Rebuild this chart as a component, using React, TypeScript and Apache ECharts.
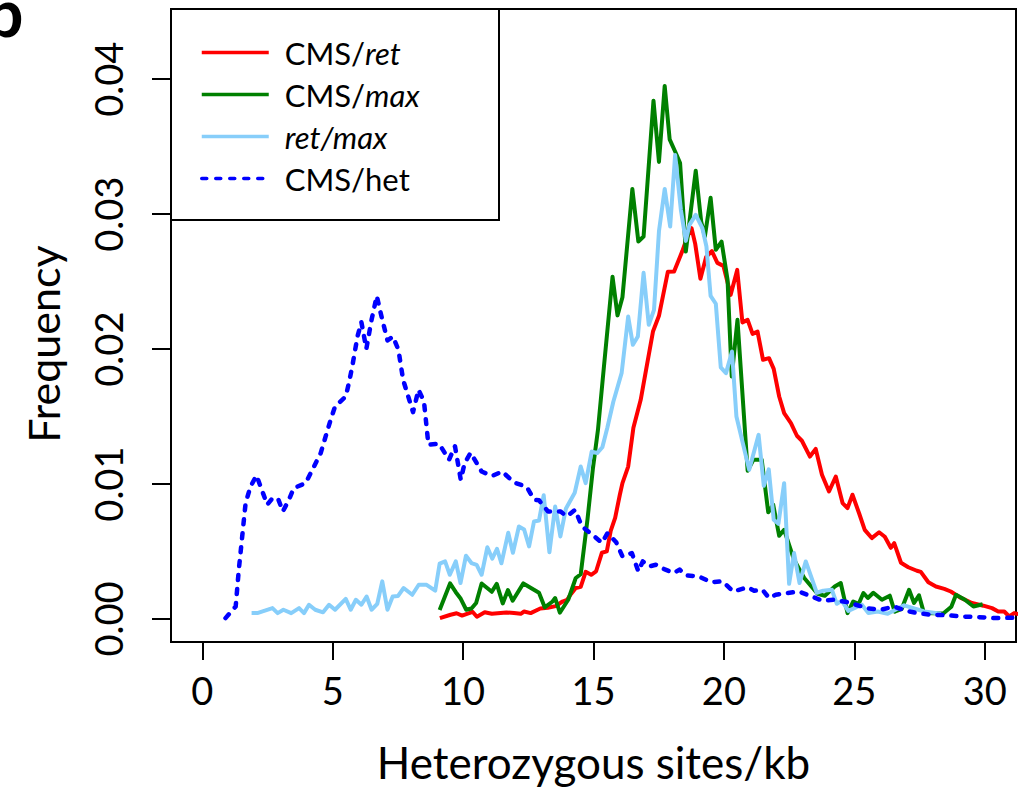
import React, { useEffect, useRef } from "react";
import * as echarts from "echarts";

// Heterozygous sites/kb (x) vs frequency (y)
const cmsRet: [number, number][] = [
  [9.11,0.00007],[9.52,0.00032],[9.75,0.00043],[9.96,0.00026],[10.23,0.00044],[10.36,0.00054],[10.53,0.00017],[10.83,0.00050],[11.10,0.00039],[11.66,0.00049],[11.95,0.00044],[12.21,0.00039],[12.34,0.00056],[12.59,0.00044],[12.96,0.00078],[13.25,0.00084],[13.55,0.00096],[13.81,0.00130],[13.99,0.00143],[14.13,0.00184],[14.32,0.00230],[14.51,0.00239],[14.70,0.00350],[14.91,0.00328],[15.10,0.00354],[15.32,0.00491],[15.51,0.00501],[15.66,0.00654],[15.83,0.00750],[16.01,0.00921],[16.11,0.01007],[16.33,0.01130],[16.53,0.01417],[16.81,0.01624],[17.05,0.01884],[17.28,0.02130],[17.51,0.02247],[17.85,0.02573],[18.09,0.02575],[18.41,0.02728],[18.60,0.02834],[18.76,0.02896],[18.90,0.02780],[19.10,0.02521],[19.32,0.02684],[19.54,0.02726],[19.75,0.02639],[19.98,0.02617],[20.26,0.02402],[20.51,0.02587],[20.71,0.02198],[20.91,0.02217],[21.10,0.02113],[21.29,0.02130],[21.50,0.01921],[21.73,0.01933],[21.91,0.01854],[22.12,0.01649],[22.31,0.01526],[22.57,0.01452],[22.80,0.01358],[22.99,0.01321],[23.30,0.01204],[23.52,0.01261],[23.76,0.01069],[24.03,0.00945],[24.29,0.01056],[24.55,0.00859],[24.74,0.00822],[24.93,0.00921],[25.19,0.00780],[25.40,0.00661],[25.67,0.00600],[25.95,0.00643],[26.17,0.00610],[26.40,0.00528],[26.53,0.00563],[26.79,0.00417],[27.07,0.00384],[27.40,0.00358],[27.55,0.00350],[27.84,0.00273],[28.13,0.00241],[28.45,0.00224],[28.70,0.00204],[29.05,0.00161],[29.51,0.00119],[29.95,0.00099],[30.28,0.00081],[30.52,0.00056],[30.75,0.00056],[30.94,0.00019],[31.13,0.00044],[31.40,0.00032]
];

const cmsMax: [number, number][] = [
  [9.10,0.00067],[9.50,0.00264],[9.72,0.00199],[9.91,0.00150],[10.12,0.00069],[10.32,0.00078],[10.50,0.00119],[10.71,0.00264],[11.10,0.00202],[11.29,0.00261],[11.52,0.00116],[11.72,0.00215],[11.90,0.00136],[12.31,0.00264],[12.91,0.00195],[13.13,0.00087],[13.43,0.00130],[13.53,0.00156],[13.71,0.00047],[14.03,0.00143],[14.32,0.00304],[14.51,0.00332],[14.77,0.00740],[14.98,0.01120],[15.17,0.01400],[15.40,0.01870],[15.73,0.02536],[15.92,0.02250],[16.11,0.02384],[16.49,0.03187],[16.72,0.02797],[16.92,0.02834],[17.30,0.03841],[17.51,0.03387],[17.73,0.03950],[17.92,0.03554],[18.13,0.03464],[18.32,0.03378],[18.54,0.02723],[18.92,0.03321],[19.13,0.02943],[19.27,0.02834],[19.49,0.03121],[19.69,0.02736],[19.91,0.02797],[20.14,0.02513],[20.30,0.01797],[20.52,0.02217],[20.91,0.01099],[21.13,0.01180],[21.45,0.01180],[21.70,0.00791],[21.89,0.00847],[22.12,0.00617],[22.31,0.00661],[22.69,0.00439],[23.08,0.00304],[23.59,0.00187],[23.87,0.00173],[24.25,0.00241],[24.48,0.00267],[24.74,0.00044],[24.96,0.00130],[25.17,0.00113],[25.35,0.00193],[25.52,0.00156],[25.73,0.00195],[26.06,0.00143],[26.36,0.00173],[26.55,0.00054],[26.82,0.00076],[27.10,0.00217],[27.29,0.00119],[27.48,0.00176],[27.67,0.00044],[28.41,0.00041],[28.72,0.00091],[28.90,0.00180],[29.24,0.00143],[29.57,0.00093],[29.92,0.00110]
];

const retMax: [number, number][] = [
  [1.89,0.00044],[2.11,0.00044],[2.69,0.00081],[2.89,0.00044],[3.11,0.00069],[3.41,0.00044],[3.71,0.00081],[3.90,0.00044],[4.09,0.00106],[4.33,0.00069],[4.63,0.00050],[4.86,0.00106],[5.09,0.00069],[5.50,0.00150],[5.69,0.00069],[5.89,0.00143],[6.10,0.00106],[6.30,0.00167],[6.49,0.00069],[6.71,0.00113],[6.90,0.00279],[7.10,0.00069],[7.30,0.00167],[7.50,0.00170],[7.72,0.00230],[8.05,0.00180],[8.30,0.00254],[8.60,0.00254],[8.93,0.00210],[9.10,0.00410],[9.31,0.00427],[9.49,0.00328],[9.72,0.00427],[9.90,0.00267],[10.11,0.00469],[10.32,0.00415],[10.52,0.00402],[10.71,0.00328],[10.93,0.00532],[11.12,0.00447],[11.30,0.00521],[11.47,0.00413],[11.73,0.00639],[11.91,0.00491],[12.14,0.00686],[12.34,0.00664],[12.53,0.00538],[12.72,0.00723],[12.91,0.00730],[13.09,0.00917],[13.31,0.00495],[13.53,0.00834],[13.73,0.00612],[13.94,0.00817],[14.28,0.00936],[14.51,0.01130],[14.70,0.01007],[14.93,0.01241],[15.14,0.01230],[15.34,0.01273],[15.53,0.01417],[15.76,0.01610],[16.08,0.01824],[16.33,0.02241],[16.51,0.02032],[16.70,0.02093],[16.92,0.02565],[17.12,0.02180],[17.32,0.02291],[17.51,0.02873],[17.73,0.03187],[17.94,0.02908],[18.13,0.03439],[18.35,0.03032],[18.54,0.02802],[18.68,0.02921],[18.92,0.02995],[19.17,0.02899],[19.33,0.02760],[19.49,0.02395],[19.69,0.02336],[19.88,0.01865],[20.08,0.01822],[20.31,0.01982],[20.48,0.01501],[20.97,0.01106],[21.33,0.01365],[21.53,0.00987],[21.72,0.01109],[21.91,0.00736],[22.09,0.00706],[22.31,0.01007],[22.50,0.00261],[22.69,0.00489],[22.90,0.00267],[23.14,0.00427],[23.56,0.00195],[23.81,0.00210],[24.14,0.00217],[24.33,0.00113],[24.52,0.00136],[24.77,0.00061],[25.29,0.00106],[25.54,0.00044],[25.90,0.00056],[26.28,0.00039],[26.91,0.00102],[27.68,0.00056],[28.33,0.00039]
];

const cmsHet: [number, number][] = [
  [0.89,0.00007],[1.28,0.00093],[1.40,0.00365],[1.53,0.00612],[1.66,0.00859],[1.85,0.00982],[2.08,0.01064],[2.28,0.00958],[2.49,0.00847],[2.71,0.00901],[2.92,0.00884],[3.09,0.00797],[3.32,0.00884],[3.51,0.00970],[3.96,0.01007],[4.22,0.01106],[4.54,0.01230],[4.73,0.01353],[4.92,0.01476],[5.09,0.01575],[5.50,0.01649],[5.62,0.01748],[5.75,0.01871],[5.95,0.02093],[6.10,0.02200],[6.29,0.02002],[6.49,0.02217],[6.69,0.02395],[6.84,0.02267],[7.10,0.02064],[7.31,0.02093],[7.52,0.01995],[7.70,0.01773],[8.08,0.01533],[8.29,0.01699],[8.50,0.01612],[8.67,0.01291],[9.08,0.01299],[9.46,0.01180],[9.69,0.01280],[9.91,0.01032],[10.06,0.01156],[10.29,0.01232],[10.71,0.01093],[11.12,0.01061],[11.50,0.01093],[11.95,0.01012],[12.44,0.00980],[12.72,0.00884],[12.91,0.00880],[13.26,0.00797],[13.74,0.00797],[13.97,0.00760],[14.30,0.00810],[14.55,0.00687],[14.96,0.00624],[15.32,0.00565],[15.54,0.00637],[15.87,0.00569],[16.11,0.00464],[16.47,0.00489],[16.72,0.00353],[16.89,0.00427],[17.13,0.00390],[17.39,0.00402],[17.71,0.00370],[18.09,0.00341],[18.30,0.00367],[18.54,0.00324],[19.04,0.00316],[19.50,0.00273],[19.95,0.00279],[20.36,0.00204],[20.91,0.00236],[21.16,0.00210],[21.48,0.00217],[21.73,0.00156],[21.99,0.00180],[22.44,0.00193],[22.88,0.00204],[23.29,0.00173],[23.77,0.00136],[24.23,0.00143],[24.77,0.00124],[25.06,0.00106],[25.51,0.00080],[26.02,0.00069],[26.53,0.00093],[26.98,0.00061],[27.43,0.00044],[27.94,0.00032],[28.58,0.00028],[29.09,0.00019],[29.73,0.00015],[30.36,0.00007],[31.20,0.00010]
];

const xTicks = [0, 5, 10, 15, 20, 25, 30];
const yTicks = [0, 0.01, 0.02, 0.03, 0.04];
const seriesNames = ["CMS/ret", "CMS/max", "ret/max", "CMS/het"];
const legendRich: Record<string, string> = {
  "CMS/ret": "{a|CMS/}{i|ret}",
  "CMS/max": "{a|CMS/}{i|max}",
  "ret/max": "{b|ret/max}",
  "CMS/het": "{a|CMS/het}",
};

const FONT = "Lato, 'DejaVu Sans', sans-serif";

export default function App() {
  const ref = useRef<HTMLDivElement>(null);
  useEffect(() => {
    if (!ref.current) return;
    const chart = echarts.init(ref.current, undefined, { renderer: "svg" });
    const lineBase = { type: "line", showSymbol: false, symbol: "none", clip: true };
    chart.setOption({
      animation: false,
      backgroundColor: "#fff",
      textStyle: { fontFamily: FONT },
      grid: {
        left: 171, top: 9, width: 845, height: 633,
        show: true, borderColor: "#000", borderWidth: 2, backgroundColor: "transparent",
      },
      xAxis: {
        type: "value", min: -1.2, max: 31.2,
        axisLine: { show: true, onZero: false, lineStyle: { color: "#000", width: 2 } },
        axisTick: { show: true, customValues: xTicks, length: 18, lineStyle: { color: "#000", width: 2 } },
        axisLabel: { customValues: xTicks, color: "#000", fontSize: 38, fontFamily: FONT, margin: 29 },
        splitLine: { show: false },
        name: "Heterozygous sites/kb", nameLocation: "middle", nameGap: 98,
        nameTextStyle: { color: "#000", fontSize: 44, fontFamily: FONT },
      },
      yAxis: {
        type: "value", min: -0.0017, max: 0.0452,
        axisLine: { show: true, onZero: false, lineStyle: { color: "#000", width: 2 } },
        axisTick: { show: true, customValues: yTicks, length: 19, lineStyle: { color: "#000", width: 2 } },
        axisLabel: {
          customValues: yTicks, color: "#000", fontSize: 38, fontFamily: FONT, rotate: 90, margin: 44,
          formatter: (v: number) => v.toFixed(2),
        },
        splitLine: { show: false },
        name: "Frequency", nameLocation: "middle", nameRotate: 90, nameGap: 106,
        nameTextStyle: { color: "#000", fontSize: 43, fontFamily: FONT, padding: [0, 37, 0, 0] },
      },
      legend: {
        data: seriesNames, orient: "vertical", left: 200, top: 37, z: 10,
        itemWidth: 67, itemHeight: 14, itemGap: 11, padding: 0,
        formatter: (name: string) => legendRich[name],
        itemStyle: { opacity: 0, borderWidth: 0 },
        lineStyle: { width: 3.5 },
        textStyle: {
          color: "#000", fontSize: 31, fontFamily: FONT, lineHeight: 31,
          rich: {
            a: { fontSize: 31, fontFamily: FONT, color: "#000", padding: [0, 0, 0, 11] },
            b: { fontSize: 31, fontFamily: FONT, color: "#000", fontStyle: "italic", padding: [0, 0, 0, 11] },
            i: { fontSize: 31, fontFamily: FONT, color: "#000", fontStyle: "italic" },
          },
        },
      },
      graphic: [
        {
          type: "rect", z: 5,
          shape: { x: 171, y: 9, width: 328, height: 211 },
          style: { fill: "#fff", stroke: "#000", lineWidth: 2 },
        },
        {
          type: "text", z: 5, x: -14, y: -22,
          style: { text: "b", font: "bold 66px Lato", fill: "#000" },
        },
      ],
      series: [
        { ...lineBase, name: "CMS/ret", data: cmsRet, lineStyle: { color: "#ff0000", width: 4, join: "round" }, itemStyle: { color: "#ff0000" } },
        { ...lineBase, name: "CMS/max", data: cmsMax, lineStyle: { color: "#008000", width: 4, join: "round" }, itemStyle: { color: "#008000" } },
        { ...lineBase, name: "ret/max", data: retMax, lineStyle: { color: "#87cefa", width: 4, join: "round" }, itemStyle: { color: "#87cefa" } },
        { ...lineBase, name: "CMS/het", data: cmsHet, lineStyle: { color: "#0000ff", width: 4.5, type: [5, 9], cap: "round", join: "round" }, itemStyle: { color: "#0000ff" } },
      ],
    });
    return () => chart.dispose();
  }, []);
  return (
    <div
      ref={ref}
      style={{ position: "fixed", left: 0, top: 0, width: 1020, height: 795, background: "#fff" }}
    />
  );
}
